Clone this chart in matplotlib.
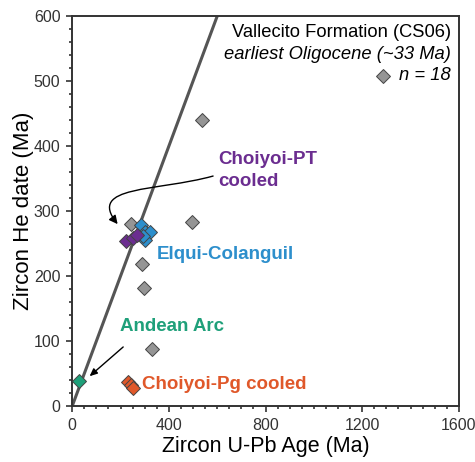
import matplotlib.pyplot as plt
from matplotlib.patches import FancyArrowPatch
from matplotlib.path import Path
from matplotlib.ticker import MultipleLocator

plt.rcParams['font.family'] = ['Liberation Sans', 'DejaVu Sans']

# zircon U-Pb age vs He date (Ma)
gray_upb = [537, 496, 244, 289, 298, 331]
gray_he = [440, 284, 280, 218, 181, 88]
elqui_upb = [283, 300, 322, 303, 292]
elqui_he = [278, 268, 268, 256, 262]
pt_upb = [223, 250, 268]
pt_he = [254, 259, 264]
arc_upb = [29]
arc_he = [39]
pg_upb = [232, 242, 252]
pg_he = [37, 33, 28]

fig = plt.figure(figsize=(4.75, 4.62), dpi=100)
ax = fig.add_axes([0.152, 0.121, 0.814, 0.844])

# 1:1 line
ax.plot([0, 700], [0, 700], color='#555555', lw=2.2, zorder=1)

mk = dict(marker='D', ms=6.8, mec='#444444', mew=0.7, ls='none', zorder=3)
ax.plot(gray_upb, gray_he, mfc='#959595', **mk)
ax.plot(elqui_upb, elqui_he, mfc='#2d8fcc', **mk)
ax.plot(pt_upb, pt_he, mfc='#6b2d90', **mk)
ax.plot(arc_upb, arc_he, mfc='#1fa07a', **mk)
ax.plot(pg_upb, pg_he, mfc='#e0582a', **mk)

lab = dict(fontsize=13.5, fontweight='bold')
ax.text(603, 393, 'Choiyoi-PT\ncooled', color='#6b2d90', va='top', ha='left',
        linespacing=1.4, **lab)
ax.text(350, 233, 'Elqui-Colanguil', color='#2d8fcc', va='center', **lab)
ax.text(196, 122, 'Andean Arc', color='#1fa07a', va='center', **lab)
ax.text(290, 34, 'Choiyoi-Pg cooled', color='#e0582a', va='center', **lab)

# curved arrow to the Choiyoi-PT group
curve = Path([(583, 354), (350, 330), (60, 340), (188, 280)],
             [Path.MOVETO, Path.CURVE4, Path.CURVE4, Path.CURVE4])
ax.add_patch(FancyArrowPatch(path=curve, arrowstyle='-|>,head_length=5,head_width=2.5',
                             color='black', lw=1.0, zorder=4))
ax.annotate('', xy=(72, 46), xytext=(211, 91),
            arrowprops=dict(arrowstyle='-|>,head_length=0.45,head_width=0.2',
                            color='black', lw=1.0, shrinkA=0, shrinkB=0))

# sample info box text
ax.text(1568, 575, 'Vallecito Formation (CS06)', ha='right', va='center', fontsize=13.2)
ax.text(1568, 541, 'earliest Oligocene (~33 Ma)', ha='right', va='center',
        fontsize=13.2, style='italic')
ax.text(1568, 508, 'n = 18', ha='right', va='center', fontsize=13.2, style='italic')
ax.plot([1285], [508], mfc='#959595', **mk)

ax.set_xlim(0, 1600)
ax.set_ylim(0, 600)
ax.xaxis.set_major_locator(MultipleLocator(400))
ax.xaxis.set_minor_locator(MultipleLocator(50))
ax.yaxis.set_major_locator(MultipleLocator(100))
ax.yaxis.set_minor_locator(MultipleLocator(20))
ax.tick_params(which='both', direction='out', color='#333333', width=1.2, top=False, right=False)
ax.tick_params(which='major', length=4.5, pad=4, labelsize=11.5, labelcolor='#333333')
ax.tick_params(which='minor', length=2.5)
for s in ax.spines.values():
    s.set_linewidth(1.4)
    s.set_color('#333333')

ax.set_xlabel('Zircon U-Pb Age (Ma)', fontsize=15.5, labelpad=2)
ax.set_ylabel('Zircon He date (Ma)', fontsize=16, labelpad=0)

fig.savefig('out.png', dpi=100)
